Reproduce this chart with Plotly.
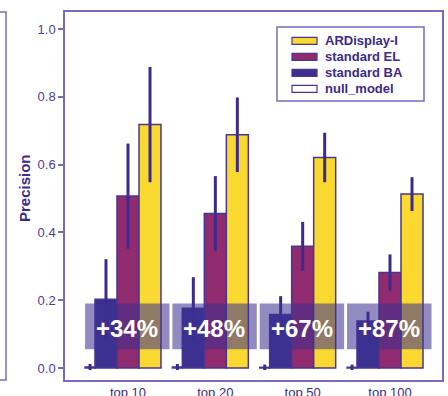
import plotly.graph_objects as go

# Precision of each model at four cut-offs
categories = ["top 10", "top 20", "top 50", "top 100"]
ardisplay = [0.718, 0.688, 0.621, 0.513]
ardisplay_err = [0.170, 0.110, 0.073, 0.050]
standard_el = [0.507, 0.456, 0.359, 0.282]
standard_el_err = [0.155, 0.110, 0.072, 0.053]
standard_ba = [0.203, 0.176, 0.158, 0.139]
standard_ba_err = [0.118, 0.092, 0.054, 0.027]
null_model = [0.003, 0.003, 0.002, 0.002]
null_model_err = [0.009, 0.009, 0.008, 0.008]
gain_labels = ["+34%", "+48%", "+67%", "+87%"]
legend_names = ["ARDisplay-I", "standard EL", "standard BA", "null_model"]

YELLOW = "#f9d92f"
MAGENTA = "#902b6f"
INDIGO = "#3c3090"
OUTLINE = "#4a3591"
ERR = "#3d2a8f"
TEXT_DARK = "#3b2a8a"
TEXT_MID = "#4d3d98"
FRAME = "#7a6abb"
FONT = "Liberation Sans, Arial, sans-serif"

W, H = 448, 396
L, R, T, B = 65, 6, 12, 16
PW, PH = W - L - R, H - T - B


def px_x(p):
    return (p - L) / PW


def px_y(p):
    return (H - B - p) / PH


BAR_W = 0.252
series = [
    ("null_model", null_model, null_model_err, "white", -0.492, 0.115),
    ("standard BA", standard_ba, standard_ba_err, INDIGO, -0.378, BAR_W),
    ("standard EL", standard_el, standard_el_err, MAGENTA, -0.126, BAR_W),
    ("ARDisplay-I", ardisplay, ardisplay_err, YELLOW, 0.126, BAR_W),
]

fig = go.Figure()
for name, vals, errs, color, off, wd in series:
    fig.add_trace(go.Bar(
        x=categories, y=vals, name=name,
        offset=off, width=wd,
        marker=dict(color=color, line=dict(color=OUTLINE, width=1.5)),
        error_y=dict(type="data", array=errs, visible=True,
                     color=ERR, thickness=3, width=0),
        showlegend=False,
    ))

shapes = []
annotations = []

# translucent label boxes with the relative gain
for i, lab in enumerate(gain_labels):
    shapes.append(dict(type="rect", xref="x", yref="y",
                       x0=i - 0.492, x1=i + 0.475, y0=0.055, y1=0.19,
                       fillcolor="rgba(60,48,144,0.56)", line=dict(width=0),
                       layer="above"))
    annotations.append(dict(x=i - 0.01, y=0.118, xref="x", yref="y",
                            text=f"<b>{lab}</b>", showarrow=False,
                            font=dict(family=FONT, size=24, color="white"),
                            xanchor="center", yanchor="middle"))

# legend box
shapes.append(dict(type="rect", xref="paper", yref="paper",
                   x0=px_x(277), x1=px_x(424), y0=px_y(101), y1=px_y(27),
                   fillcolor="white", line=dict(color=FRAME, width=1.5),
                   layer="above"))
legend_fill = {"ARDisplay-I": YELLOW, "standard EL": MAGENTA,
               "standard BA": INDIGO, "null_model": "white"}
for i, nm in enumerate(legend_names):
    cy = 40.8 + 16 * i
    shapes.append(dict(type="rect", xref="paper", yref="paper",
                       x0=px_x(292), x1=px_x(317),
                       y0=px_y(cy + 3.5), y1=px_y(cy - 3.5),
                       fillcolor=legend_fill[nm],
                       line=dict(color=OUTLINE, width=1.2), layer="above"))
    annotations.append(dict(x=px_x(323), y=px_y(cy), xref="paper", yref="paper",
                            text=f"<b>{nm}</b>", showarrow=False,
                            font=dict(family=FONT, size=13, color=TEXT_DARK),
                            xanchor="left", yanchor="middle"))

# edge of the neighbouring panel on the left
shapes.append(dict(type="rect", xref="paper", yref="paper",
                   x0=px_x(-20), x1=px_x(6), y0=0, y1=1,
                   fillcolor="rgba(0,0,0,0)", line=dict(color=FRAME, width=1.5)))

# y-axis title
annotations.append(dict(x=px_x(24), y=px_y(188), xref="paper", yref="paper",
                        text="<b>Precision</b>", textangle=-90, showarrow=False,
                        font=dict(family=FONT, size=15, color=TEXT_DARK),
                        xanchor="center", yanchor="middle"))

fig.update_layout(
    width=W, height=H,
    margin=dict(l=L, r=R, t=T, b=B, pad=0, autoexpand=False),
    paper_bgcolor="white", plot_bgcolor="white",
    barmode="overlay",
    shapes=shapes, annotations=annotations,
    font=dict(family=FONT),
)
fig.update_xaxes(
    type="category", range=[-0.7214, 3.5954], automargin=False,
    showgrid=False, zeroline=False,
    showline=True, mirror=True, linecolor=FRAME, linewidth=1.5,
    ticks="", tickfont=dict(family=FONT, size=13, color=TEXT_DARK),
)
fig.update_yaxes(
    range=[-0.0354, 1.0501], automargin=False,
    tickvals=[0, 0.2, 0.4, 0.6, 0.8, 1.0],
    ticktext=["0.0", "0.2", "0.4", "0.6", "0.8", "1.0"],
    showgrid=False, zeroline=False,
    showline=True, mirror=True, linecolor=FRAME, linewidth=1.5,
    ticks="outside", ticklen=5, tickwidth=1.5, tickcolor=FRAME,
    tickfont=dict(family=FONT, size=13, color=TEXT_MID),
)

fig.write_html("out.html")
